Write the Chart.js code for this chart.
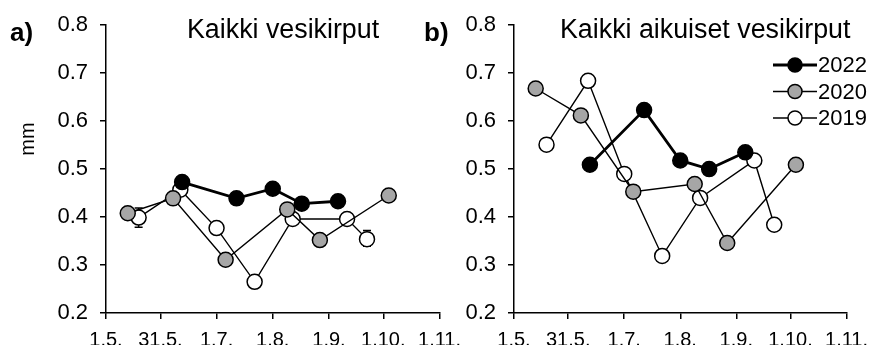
<!DOCTYPE html>
<html>
<head>
<meta charset="utf-8">
<script src="https://cdn.jsdelivr.net/npm/chart.js@4.4.1/dist/chart.umd.min.js"></script>
<style>
    body { margin: 0; background: #fff; }
    #wrap { position: relative; width: 877px; height: 345px; overflow: hidden; font-family: "Liberation Sans", Arial, sans-serif; }
    canvas { position: absolute; top: 0; }
    #chart-a { left: 0; }
    #chart-b { left: 437px; }
    .lbl { position: absolute; white-space: nowrap; line-height: 1; color: #000; }
</style>
</head>
<body>
<div id="wrap">
    <canvas id="chart-a" width="470" height="345"></canvas>
    <canvas id="chart-b" width="440" height="345"></canvas>
    <div class="lbl" style="left:10px;top:19px;font-size:26px;font-weight:bold;">a)</div>
    <div class="lbl" style="left:424px;top:19px;font-size:26px;font-weight:bold;">b)</div>
    <div class="lbl" style="left:187px;top:16px;font-size:26.8px;">Kaikki vesikirput</div>
    <div class="lbl" style="left:560px;top:16px;font-size:26.8px;">Kaikki aikuiset vesikirput</div>
    <div class="lbl" style="left:27px;top:139px;font-size:20px;transform:translate(-50%,-50%) rotate(-90deg);">mm</div>
</div>
<script>
// akselit: päivät 1.5. alkaen
const tickDays = [0, 30, 61, 92, 123, 153, 184];
const tickLabels = ["1.5.", "31.5.", "1.7.", "1.8.", "1.9.", "1.10.", "1.11."];
const yTicks = [0.2, 0.3, 0.4, 0.5, 0.6, 0.7, 0.8];
const years = ["2022", "2020", "2019"];

// näytteenottopäivät
const days2022 = [42, 72, 92, 108, 128];
const days2020 = [12, 37, 66, 100, 118, 156];
const days2019 = [18, 41, 61, 82, 103, 133, 144];

// a) Kaikki vesikirput
const all2022 = [0.473, 0.439, 0.459, 0.428, 0.433];
const all2020 = [0.408, 0.439, 0.311, 0.416, 0.352, 0.445];
const all2019 = [0.399, 0.457, 0.377, 0.265, 0.396, 0.396, 0.354];
const all2019Low = [0.379, null, null, null, null, null, 0.339];
const all2019High = [0.419, null, null, null, null, null, 0.372];

// b) Kaikki aikuiset vesikirput
const adult2022 = [0.509, 0.623, 0.518, 0.500, 0.535];
const adult2020 = [0.668, 0.612, 0.453, 0.469, 0.346, 0.509];
const adult2019 = [0.551, 0.684, 0.490, 0.319, 0.440, 0.518, 0.384];

Chart.defaults.font.family = '"Liberation Sans", Arial, sans-serif';
Chart.defaults.color = "#000";

const styles = {
    "2022": { borderColor: "#000", borderWidth: 2.8, pointBackgroundColor: "#000" },
    "2020": { borderColor: "#000", borderWidth: 1.4, pointBackgroundColor: "#a6a6a6" },
    "2019": { borderColor: "#000", borderWidth: 1.4, pointBackgroundColor: "#fff" }
};

function series(year, days, vals, low, high) {
    return {
        label: year,
        data: days.map((d, i) => ({ x: d, y: vals[i] })),
        errLow: low || null,
        errHigh: high || null,
        pointRadius: 7.5,
        pointHoverRadius: 7.5,
        pointBorderWidth: 1.5,
        pointBorderColor: "#000",
        backgroundColor: styles[year].pointBackgroundColor,
        fill: false,
        tension: 0,
        ...styles[year]
    };
}

// virhepalkit
const errorBars = {
    id: "errorBars",
    beforeDatasetsDraw(chart) {
        const ctx = chart.ctx;
        const xs = chart.scales.x, ys = chart.scales.y;
        ctx.save();
        ctx.strokeStyle = "#000";
        ctx.lineWidth = 1.5;
        chart.data.datasets.forEach(ds => {
            if (!ds.errLow) return;
            ds.data.forEach((p, i) => {
                if (ds.errLow[i] == null) return;
                const px = xs.getPixelForValue(p.x);
                const y1 = ys.getPixelForValue(ds.errLow[i]);
                const y2 = ys.getPixelForValue(ds.errHigh[i]);
                ctx.beginPath();
                ctx.moveTo(px, y1); ctx.lineTo(px, y2);
                ctx.moveTo(px - 4, y1); ctx.lineTo(px + 4, y1);
                ctx.moveTo(px - 4, y2); ctx.lineTo(px + 4, y2);
                ctx.stroke();
            });
        });
        ctx.restore();
    }
};

// selite: viiva + merkki + teksti
const lineLegend = {
    id: "lineLegend",
    afterDraw(chart, args, opts) {
        if (!opts.show) return;
        const ctx = chart.ctx;
        ctx.save();
        ctx.font = "22px " + Chart.defaults.font.family;
        ctx.textBaseline = "middle";
        ctx.textAlign = "left";
        chart.data.datasets.forEach((ds, i) => {
            const y = opts.top + i * opts.rowGap;
            ctx.strokeStyle = ds.borderColor;
            ctx.lineWidth = ds.borderWidth;
            ctx.beginPath();
            ctx.moveTo(opts.left, y);
            ctx.lineTo(opts.left + opts.lineLen, y);
            ctx.stroke();
            ctx.beginPath();
            ctx.arc(opts.left + opts.lineLen / 2, y, 7, 0, Math.PI * 2);
            ctx.fillStyle = ds.pointBackgroundColor;
            ctx.fill();
            ctx.lineWidth = 1.5;
            ctx.strokeStyle = "#000";
            ctx.stroke();
            ctx.fillStyle = "#000";
            ctx.fillText(ds.label, opts.left + opts.lineLen + 1, y + 1);
        });
        ctx.restore();
    }
};

function makeChart(id, datasets, yWidth, padRight, legend) {
    return new Chart(document.getElementById(id), {
        type: "line",
        data: { datasets },
        plugins: [errorBars, lineLegend],
        options: {
            responsive: false,
            animation: false,
            layout: { padding: { left: 0, right: padRight, top: 24, bottom: 0 } },
            plugins: {
                legend: { display: false },
                tooltip: { enabled: false },
                lineLegend: legend
            },
            scales: {
                x: {
                    type: "linear",
                    min: 0,
                    max: 184,
                    afterBuildTicks: s => { s.ticks = tickDays.map(v => ({ value: v })); },
                    afterFit: s => { s.height = 32; },
                    ticks: {
                        autoSkip: false,
                        maxRotation: 0,
                        padding: 9,
                        font: { size: 20 },
                        callback: (v, i) => tickLabels[i]
                    },
                    grid: { drawOnChartArea: false, tickLength: 6, color: "#000", lineWidth: 1.5 },
                    border: { color: "#000", width: 1.5 }
                },
                y: {
                    min: 0.2,
                    max: 0.8,
                    afterBuildTicks: s => { s.ticks = yTicks.map(v => ({ value: v })); },
                    afterFit: s => { s.width = yWidth; },
                    ticks: {
                        padding: 12,
                        font: { size: 22 },
                        callback: v => v.toFixed(1)
                    },
                    grid: { drawOnChartArea: false, tickLength: 6, color: "#000", lineWidth: 1.5 },
                    border: { color: "#000", width: 1.5 }
                }
            }
        }
    });
}

makeChart("chart-a", [
    series(years[0], days2022, all2022),
    series(years[1], days2020, all2020),
    series(years[2], days2019, all2019, all2019Low, all2019High)
], 106, 27, { show: false });

makeChart("chart-b", [
    series(years[0], days2022, adult2022),
    series(years[1], days2020, adult2020),
    series(years[2], days2019, adult2019)
], 77, 25, { show: true, left: 336, lineLen: 44, top: 65, rowGap: 26.5 });
</script>
</body>
</html>
